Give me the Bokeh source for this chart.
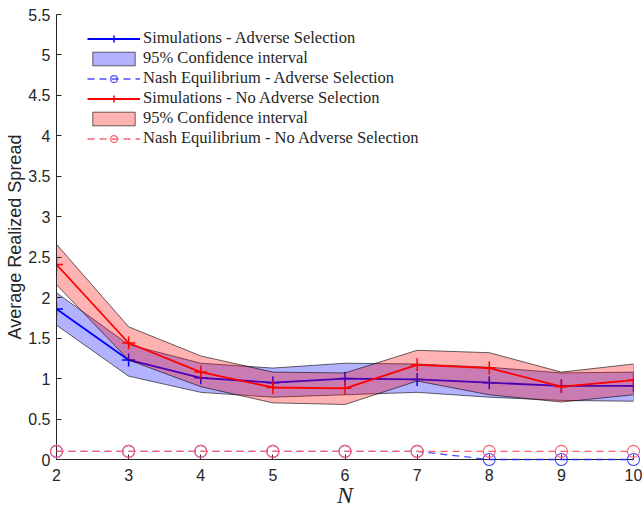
from bokeh.plotting import figure
from bokeh.models import Range1d, FixedTicker, Legend, LegendItem
from bokeh.embed import file_html
from bokeh.resources import INLINE

# Number of market makers
N = [2, 3, 4, 5, 6, 7, 8, 9, 10]

# Simulated average realized spread with adverse selection and its 95% band
sim_as = [1.86, 1.23, 1.01, 0.95, 1.00, 0.99, 0.95, 0.91, 0.91]
ci_as_low = [1.66, 1.03, 0.83, 0.77, 0.80, 0.83, 0.77, 0.73, 0.72]
ci_as_high = [2.06, 1.42, 1.19, 1.13, 1.19, 1.18, 1.14, 1.07, 1.08]

# Simulated average realized spread without adverse selection and its 95% band
sim_nas = [2.41, 1.44, 1.08, 0.89, 0.88, 1.17, 1.13, 0.90, 0.98]
ci_nas_low = [2.16, 1.23, 0.90, 0.70, 0.68, 0.97, 0.80, 0.71, 0.80]
ci_nas_high = [2.66, 1.64, 1.28, 1.08, 1.07, 1.35, 1.32, 1.08, 1.18]

# Nash equilibrium spreads
nash_as = [0.1, 0.1, 0.1, 0.1, 0.1, 0.1, 0.0, 0.0, 0.0]
nash_nas = [0.1, 0.1, 0.1, 0.1, 0.1, 0.1, 0.1, 0.1, 0.1]

x_ticks = [2, 3, 4, 5, 6, 7, 8, 9, 10]
y_ticks = [0, 0.5, 1, 1.5, 2, 2.5, 3, 3.5, 4, 4.5, 5, 5.5]
y_tick_labels = ["0", "0.5", "1", "1.5", "2", "2.5", "3", "3.5", "4", "4.5", "5", "5.5"]

labels = [
    "Simulations - Adverse Selection",
    "95% Confidence interval",
    "Nash Equilibrium - Adverse Selection",
    "Simulations - No Adverse Selection",
    "95% Confidence interval",
    "Nash Equilibrium - No Adverse Selection",
]

AX = "#262626"

p = figure(
    width=642, height=511,
    output_backend="svg", toolbar_location=None,
    x_range=Range1d(2, 10), y_range=Range1d(0, 5.5),
    min_border_left=56, min_border_right=9,
    min_border_top=14, min_border_bottom=52,
)
p.outline_line_color = None
p.background_fill_color = "white"
p.border_fill_color = "white"
p.xgrid.visible = False
p.ygrid.visible = False

for ax in (p.xaxis[0], p.yaxis[0]):
    ax.axis_line_color = AX
    ax.axis_line_width = 1
    ax.major_tick_line_color = AX
    ax.major_tick_in = 5
    ax.major_tick_out = 0
    ax.minor_tick_line_color = None
    ax.major_label_text_font = "Liberation Sans"
    ax.major_label_text_font_size = "16px"
    ax.major_label_text_color = AX

p.xaxis.ticker = FixedTicker(ticks=x_ticks)
p.xaxis.major_label_standoff = 9
p.xaxis.axis_label = "N"
p.xaxis.axis_label_text_font = "Liberation Serif"
p.xaxis.axis_label_text_font_style = "italic"
p.xaxis.axis_label_text_font_size = "24px"
p.xaxis.axis_label_text_color = AX
p.xaxis.axis_label_standoff = -2

p.yaxis.ticker = FixedTicker(ticks=y_ticks)
p.yaxis.major_label_overrides = dict(zip(y_ticks, y_tick_labels))
p.yaxis.major_label_standoff = 6
p.yaxis.axis_label = "Average Realized Spread"
p.yaxis.axis_label_text_font = "Liberation Sans"
p.yaxis.axis_label_text_font_style = "normal"
p.yaxis.axis_label_text_font_size = "18px"
p.yaxis.axis_label_text_color = AX
p.yaxis.axis_label_standoff = 0

band_x = N + N[::-1]

# Adverse selection: band, simulation line
band_as = p.patch(band_x, ci_as_low + ci_as_high[::-1],
                  fill_color="#0000ff", fill_alpha=0.3,
                  line_color="black", line_alpha=0.75, line_width=0.8)
line_as = p.line(N, sim_as, line_color="#0000ff", line_width=1.8)
mark_as = p.scatter(N, sim_as, marker="cross", size=13,
                    line_color="#0000ff", line_width=1.5)

# Nash equilibrium, adverse selection
nline_as = p.line(N, nash_as, line_color="#2020ff", line_alpha=0.8,
                  line_width=1.3, line_dash="7 5", level="overlay")
nmark_as = p.scatter(N, nash_as, marker="circle", size=12,
                     fill_color=None, line_color="#2020ff", line_alpha=0.8,
                     line_width=1.1, level="overlay")

# No adverse selection: band, simulation line
band_nas = p.patch(band_x, ci_nas_low + ci_nas_high[::-1],
                   fill_color="#ff0000", fill_alpha=0.3,
                   line_color="black", line_alpha=0.75, line_width=0.8)
line_nas = p.line(N, sim_nas, line_color="#ff0000", line_width=1.8)
mark_nas = p.scatter(N, sim_nas, marker="cross", size=13,
                     line_color="#ff0000", line_width=1.5)

# Nash equilibrium, no adverse selection
nline_nas = p.line(N, nash_nas, line_color="#ff6070", line_alpha=1.0,
                   line_width=1.3, line_dash="7 5", level="overlay")
nmark_nas = p.scatter(N, nash_nas, marker="circle", size=12,
                      fill_color=None, line_color="#ff6070", line_alpha=1.0,
                      line_width=1.1, level="overlay")

legend = Legend(
    items=[
        LegendItem(label=labels[0], renderers=[line_as, mark_as]),
        LegendItem(label=labels[1], renderers=[band_as]),
        LegendItem(label=labels[2], renderers=[nline_as, nmark_as]),
        LegendItem(label=labels[3], renderers=[line_nas, mark_nas]),
        LegendItem(label=labels[4], renderers=[band_nas]),
        LegendItem(label=labels[5], renderers=[nline_nas, nmark_nas]),
    ],
    location=(31, 311),
    padding=0, margin=0, spacing=0,
    glyph_width=53, glyph_height=17,
    label_height=19, label_standoff=3,
    label_text_font="Liberation Serif",
    label_text_font_size="16.5px",
    label_text_color=AX,
    background_fill_alpha=0,
    border_line_color=None,
)
p.add_layout(legend)

open("out.html", "w").write(file_html(p, INLINE))
